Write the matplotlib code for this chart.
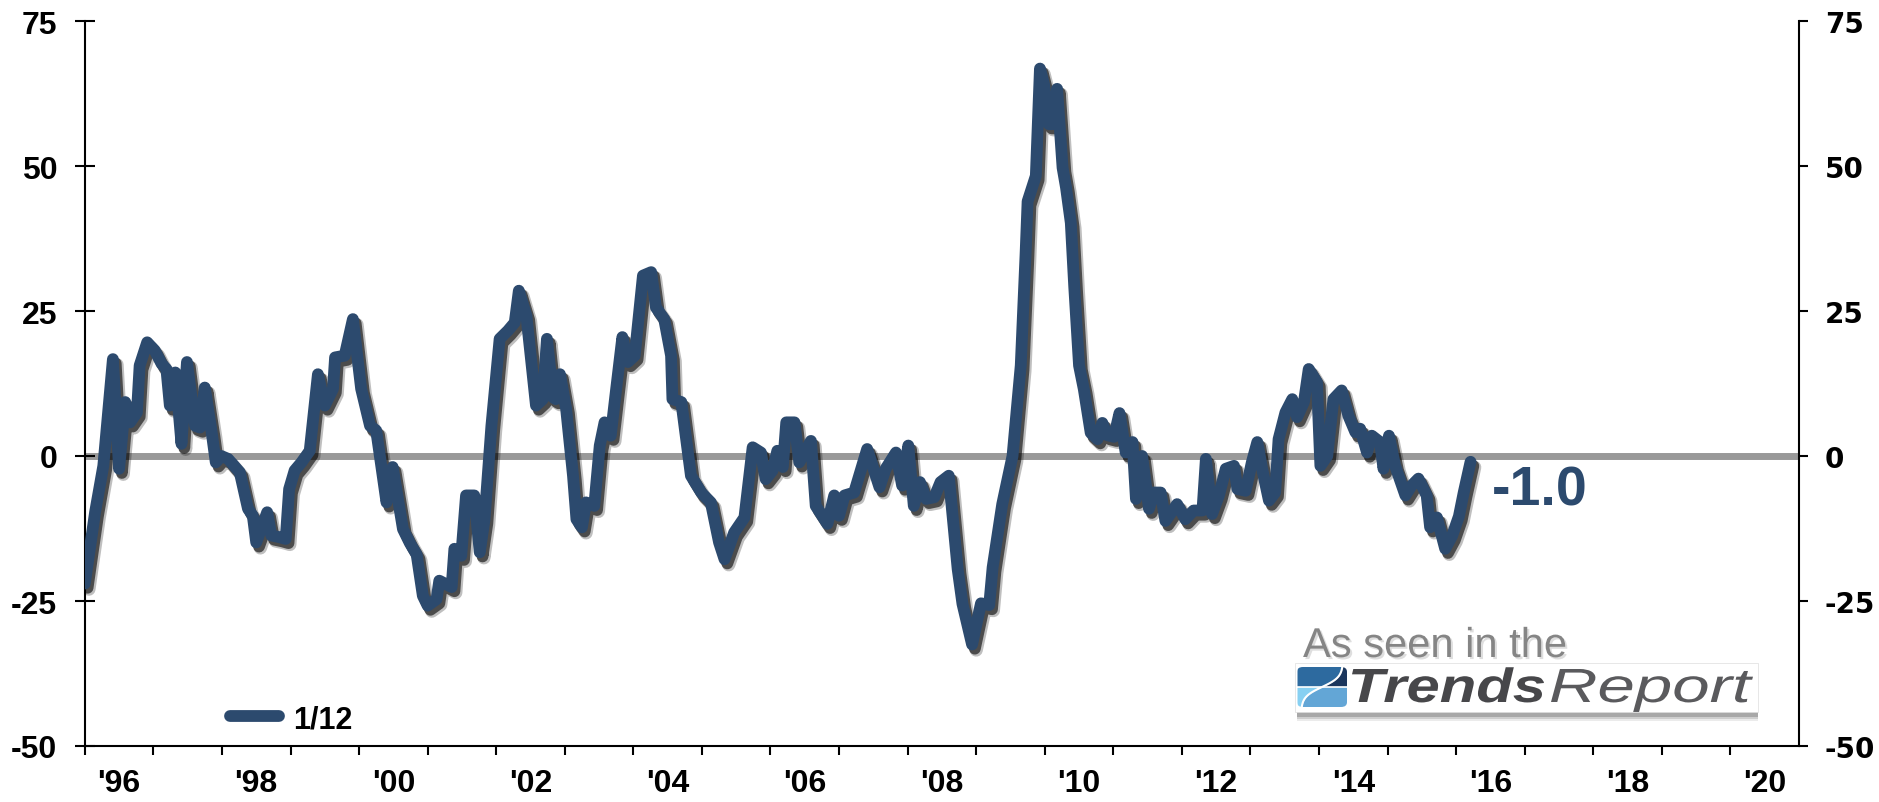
import numpy as np
import matplotlib
matplotlib.use('Agg')
import matplotlib.pyplot as plt
import matplotlib.patheffects as pe
from matplotlib import font_manager
from matplotlib.lines import Line2D
from matplotlib.patches import Rectangle, PathPatch, FancyBboxPatch
from matplotlib.textpath import TextPath
from matplotlib.font_manager import FontProperties
from matplotlib.transforms import Affine2D, IdentityTransform

# monthly-ish readings, x in decimal years
dates = [
    1996.00, 1996.15, 1996.27, 1996.41, 1996.50, 1996.59, 1996.66, 1996.76, 1996.80, 1996.91,
    1997.02, 1997.12, 1997.19, 1997.24, 1997.32, 1997.41, 1997.49, 1997.61, 1997.68, 1997.75,
    1997.85, 1997.91, 1997.99, 1998.09, 1998.26, 1998.38, 1998.45, 1998.50, 1998.66, 1998.72,
    1998.84, 1998.93, 1998.98, 1999.06, 1999.16, 1999.28, 1999.40, 1999.50, 1999.62, 1999.65,
    1999.79, 1999.91, 2000.03, 2000.16, 2000.25, 2000.40, 2000.49, 2000.64, 2000.74, 2000.84,
    2000.93, 2001.00, 2001.13, 2001.17, 2001.35, 2001.39, 2001.49, 2001.56, 2001.68, 2001.76,
    2001.83, 2001.93, 2002.05, 2002.17, 2002.27, 2002.33, 2002.44, 2002.58, 2002.68, 2002.74,
    2002.83, 2002.87, 2002.93, 2003.02, 2003.12, 2003.17, 2003.25, 2003.31, 2003.43, 2003.51,
    2003.58, 2003.67, 2003.75, 2003.84, 2003.92, 2004.02, 2004.14, 2004.26, 2004.33, 2004.45,
    2004.55, 2004.57, 2004.70, 2004.84, 2004.99, 2005.13, 2005.25, 2005.33, 2005.47, 2005.62,
    2005.74, 2005.86, 2005.93, 2006.03, 2006.10, 2006.18, 2006.23, 2006.35, 2006.42, 2006.51,
    2006.59, 2006.66, 2006.83, 2006.93, 2007.00, 2007.08, 2007.22, 2007.41, 2007.59, 2007.68,
    2007.83, 2007.92, 2008.01, 2008.09, 2008.18, 2008.27, 2008.39, 2008.48, 2008.60, 2008.73,
    2008.80, 2008.94, 2009.07, 2009.19, 2009.24, 2009.38, 2009.53, 2009.65, 2009.72, 2009.75,
    2009.87, 2009.93, 2009.99, 2010.06, 2010.11, 2010.18, 2010.26, 2010.31, 2010.38, 2010.43,
    2010.50, 2010.57, 2010.67, 2010.77, 2010.84, 2010.91, 2011.01, 2011.09, 2011.18, 2011.28,
    2011.33, 2011.42, 2011.52, 2011.59, 2011.69, 2011.76, 2011.93, 2012.05, 2012.17, 2012.30,
    2012.35, 2012.44, 2012.54, 2012.64, 2012.76, 2012.81, 2012.93, 2013.02, 2013.10, 2013.17,
    2013.27, 2013.36, 2013.41, 2013.51, 2013.61, 2013.68, 2013.78, 2013.85, 2013.97, 2014.02,
    2014.12, 2014.21, 2014.33, 2014.43, 2014.53, 2014.60, 2014.70, 2014.77, 2014.89, 2014.94,
    2015.02, 2015.11, 2015.26, 2015.35, 2015.45, 2015.57, 2015.62, 2015.72, 2015.84, 2015.94,
    2016.04, 2016.11, 2016.21,
]
values = [
    -22.0, -9.7, -1.7, 16.7, -2.2, 9.3, 5.8, 7.5, 15.6, 19.6,
    18.2, 15.9, 15.0, 8.7, 14.4, 2.1, 16.2, 5.2, 4.9, 11.8,
    4.1, -1.1, 0.0, -0.5, -2.8, -9.1, -10.3, -14.9, -9.7, -13.7,
    -14.0, -14.3, -5.7, -2.5, -1.1, 0.9, 14.1, 8.7, 11.6, 17.0,
    17.3, 23.6, 11.6, 5.2, 4.4, -8.0, -1.9, -12.6, -15.0, -17.0,
    -24.1, -25.8, -24.7, -21.5, -22.6, -16.0, -17.2, -6.8, -6.8, -16.6,
    -10.9, 5.2, 20.2, 21.6, 23.0, 28.5, 24.2, 8.7, 9.8, 20.2,
    10.1, 9.8, 14.1, 8.1, -3.4, -10.9, -12.3, -8.0, -8.6, 1.8,
    5.8, 3.5, 11.6, 20.5, 16.2, 17.3, 31.1, 31.7, 25.6, 23.6,
    17.3, 9.8, 9.3, -3.4, -6.3, -8.0, -14.9, -17.8, -13.2, -10.6,
    1.5, 0.6, -4.0, -2.5, 0.9, -1.9, 5.8, 5.8, -1.1, 0.9,
    2.6, -8.6, -11.7, -6.8, -10.3, -6.8, -6.3, 1.2, -5.4, -2.2,
    0.6, -5.1, 1.8, -8.6, -4.5, -7.4, -7.1, -4.5, -3.4, -19.5,
    -25.5, -32.5, -25.4, -25.7, -19.2, -8.3, 0.0, 15.6, 34.7, 43.9,
    48.3, 66.8, 64.0, 57.2, 57.2, 63.3, 49.7, 46.3, 40.2, 29.2,
    15.6, 11.5, 4.0, 2.9, 5.7, 3.6, 3.3, 7.4, 0.6, 2.4,
    -7.4, 0.0, -9.1, -6.3, -6.3, -11.2, -8.3, -10.9, -9.4, -9.4,
    -0.5, -10.0, -6.8, -2.2, -1.7, -5.7, -6.0, -1.1, 2.4, -2.2,
    -7.7, -6.3, 2.9, 7.5, 9.8, 6.7, 9.3, 15.0, 12.7, -1.7,
    0.0, 9.8, 11.3, 6.9, 4.1, 4.7, 0.6, 3.5, 2.4, -2.2,
    3.5, -1.7, -6.8, -5.1, -3.9, -6.8, -12.3, -10.6, -16.0, -13.8,
    -10.4, -6.3, -1.0,
]
series_label = '1/12'
y_ticks = [-50, -25, 0, 25, 50, 75]
tick_years = list(range(1996, 2021))
label_years = list(range(1996, 2021, 2))

W, H = 1879, 803
NAVY = '#2c4a6e'
FONT = 'Liberation Sans'
names = {f.name for f in font_manager.fontManager.ttflist}
if 'Liberation Sans Narrow' in names:
    NARROW, TSIZE = 'Liberation Sans Narrow', 25
else:
    NARROW, TSIZE = 'Liberation Sans', 23

fig = plt.figure(figsize=(W / 100, H / 100), dpi=100)
ax = fig.add_axes([84.8 / W, 1 - 747 / H, (1799 - 84.8) / W, 725 / H])

ax.axhline(0, color='#999999', lw=5, zorder=1)
ax.plot(dates, values, color=NAVY, lw=8.5, solid_joinstyle='round',
        solid_capstyle='round', zorder=3,
        path_effects=[pe.SimpleLineShadow(offset=(3, -4), shadow_color='black', alpha=0.25, linewidth=9.5),
                      pe.SimpleLineShadow(offset=(2, -3), shadow_color='black', alpha=0.6),
                      pe.Normal()])

ax.set_xlim(1996, 2021)
ax.set_ylim(-50, 75)

for side in ['top', 'right']:
    ax.spines[side].set_visible(False)
for side in ['left', 'bottom']:
    ax.spines[side].set_linewidth(1.5)

# y axis (left)
ax.set_yticks(y_ticks)
ax.set_yticklabels([str(v) for v in y_ticks], fontsize=TSIZE, fontweight='bold', family=NARROW)
ax.tick_params(axis='y', direction='inout', length=13.7, width=1.5, pad=13)

# x axis: ticks at year boundaries, labels centred in the year
ax.set_xticks(tick_years)
ax.set_xticklabels([])
ax.set_xticks([y + 0.5 for y in label_years], minor=True)
ax.set_xticklabels([f"'{y % 100:02d}" for y in label_years], minor=True,
                   fontsize=TSIZE, fontweight='bold', family=NARROW)
ax.tick_params(axis='x', which='major', direction='out', length=6.5, width=1.5)
ax.tick_params(axis='x', which='minor', length=0, pad=16)

# right axis
ax2 = ax.twinx()
ax2.set_ylim(-50, 75)
ax2.set_yticks(y_ticks)
ax2.set_yticklabels([str(v) for v in y_ticks], fontsize=20, fontweight='bold', family='DejaVu Sans')
ax2.tick_params(axis='y', direction='out', length=6.7, width=1.5, pad=12)
for side in ['top', 'left', 'bottom']:
    ax2.spines[side].set_visible(False)
ax2.spines['right'].set_linewidth(1.5)

# legend
handle = Line2D([], [], color=NAVY, lw=8.5, solid_capstyle='round')
ax.legend([handle], [series_label], loc='center left', bbox_to_anchor=(0.0847, 0.0372),
          frameon=False, borderpad=0, borderaxespad=0, handlelength=1.6,
          handletextpad=0.45, prop=FontProperties(family=NARROW, weight='bold', size=TSIZE - 1))

# last value callout
ax.annotate(f'{values[-1]:.1f}', xy=(dates[-1], values[-1]), xytext=(15, -21),
            textcoords='offset points', ha='left', va='center', fontsize=40,
            fontweight='bold', color=NAVY, family=FONT)

# "As seen in the TrendsReport" badge
fig.text(1303 / W, 1 - 658 / H, 'As seen in the', fontsize=30, family=FONT,
         color='#858585', ha='left', va='baseline',
         path_effects=[pe.withSimplePatchShadow(offset=(1.5, -1.5), alpha=0.15)])

for dy, a in [(9, 0.08), (7, 0.12), (5, 0.18)]:
    fig.add_artist(Rectangle((1297, H - 713 - dy), 461, 49, transform=IdentityTransform(),
                             color='black', alpha=a, lw=0, zorder=1))
fig.add_artist(Rectangle((1295, H - 713), 463, 49, transform=IdentityTransform(),
                         facecolor='white', edgecolor='#dddddd', lw=0.5, zorder=1))


def fit_text(s, x0, y_base, width, cap, prop, color):
    tp = TextPath((0, 0), s, size=1, prop=prop)
    bb = tp.get_extents()
    cap_ref = TextPath((0, 0), 'T', size=1, prop=prop).get_extents().height
    tr = Affine2D().translate(-bb.x0, 0).scale(width / bb.width, cap / cap_ref).translate(x0, H - y_base)
    fig.add_artist(PathPatch(tp, transform=tr, facecolor=color, lw=0, zorder=2))


fit_text('Trends', 1352, 703, 192, 33, FontProperties(family=FONT, weight='bold', style='italic'), '#47474a')
fit_text('Report', 1551, 703, 202, 33, FontProperties(family=FONT, style='italic'), '#5a5a5d')

icon = fig.add_axes([1297 / W, (H - 708) / H, 50 / W, 40 / H])
icon.set_zorder(5)
icon.set_xlim(0, 1)
icon.set_ylim(0, 1)
icon.axis('off')
clip = FancyBboxPatch((0, 0), 1, 1, boxstyle='round,pad=0,rounding_size=0.12',
                      transform=icon.transData, facecolor='none', lw=0)
icon.add_patch(clip)
yy = np.linspace(0, 1, 60)
xc = 0.5 + 0.42 * np.tanh(4 * (yy - 0.5))
top, bot = yy >= 0.5, yy <= 0.5
parts = [
    icon.fill_betweenx(yy[top], 0, xc[top], color='#2d6a9f', lw=0),
    icon.fill_betweenx(yy[top], xc[top], 1, color='#1b365d', lw=0),
    icon.fill_betweenx(yy[bot], 0, xc[bot], color='#87d0f2', lw=0),
    icon.fill_betweenx(yy[bot], xc[bot], 1, color='#63a6d6', lw=0),
]
for p in parts:
    p.set_clip_path(clip)
icon.plot(xc, yy, color='white', lw=1.5)
icon.axhline(0.5, color='white', lw=1.2)

fig.savefig('out.png', dpi=100)
